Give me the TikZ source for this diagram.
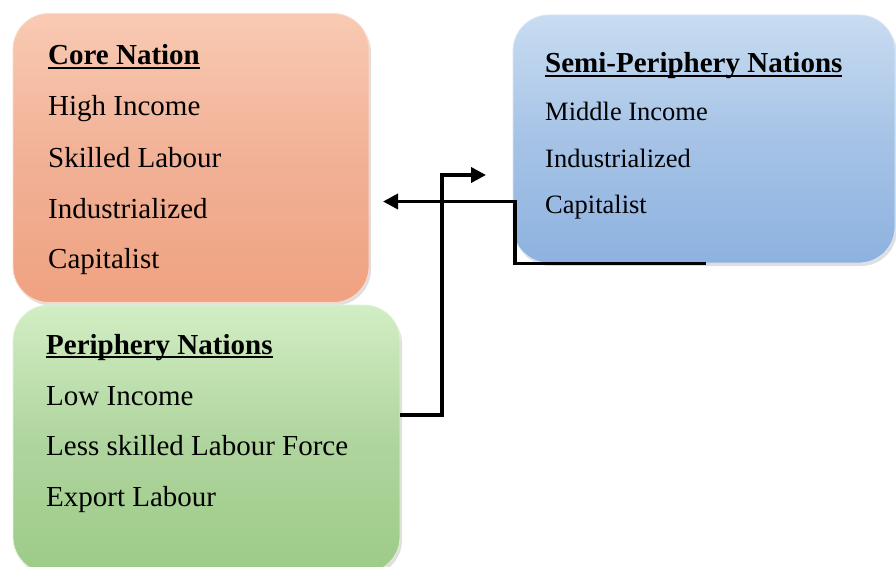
\documentclass[tikz,border=0pt]{standalone}
\usepackage{fontspec}
\setmainfont{Liberation Serif}
\usetikzlibrary{arrows.meta,shadows}
\newcommand\myul[1]{\setbox0\hbox{#1}\rlap{\rule[-4pt]{\wd0}{1.8pt}}\box0}
\definecolor{coreT}{HTML}{F9CAB3}
\definecolor{coreM}{HTML}{F1B196}
\definecolor{coreB}{HTML}{F0A281}
\definecolor{perT}{HTML}{D2EEC4}
\definecolor{perM}{HTML}{B0D59F}
\definecolor{perB}{HTML}{9DCB87}
\definecolor{semT}{HTML}{C8DCF1}
\definecolor{semM}{HTML}{A6C3E6}
\definecolor{semB}{HTML}{8DB2E0}
\tikzset{
  boxbase/.style={rounded corners=36pt, inner sep=0pt,
    drop shadow={opacity=0.25, shadow xshift=2pt, shadow yshift=-3pt}},
  corebox/.style={boxbase, top color=coreT, bottom color=coreB, middle color=coreM, draw=coreT!70!white, line width=0.8pt},
  perbox/.style={boxbase, top color=perT, bottom color=perB, middle color=perM, draw=perT!70!white, line width=0.8pt},
  sembox/.style={boxbase, top color=semT, bottom color=semB, middle color=semM, draw=semT!70!white, line width=0.8pt},
  bigtxt/.style={anchor=base west, inner sep=0pt, font=\fontsize{29}{34}\selectfont},
  smalltxt/.style={anchor=base west, inner sep=0pt, font=\fontsize{26.5}{31}\selectfont},
  conn/.style={line width=3.6pt, -{Triangle[length=15pt,width=15pt]}}
}
\begin{document}
\begin{tikzpicture}[x=1pt,y=-1pt]
\useasboundingbox (0,0) rectangle (896,567);
\clip (0,0) rectangle (896,567);
% boxes
\node[corebox, minimum width=356pt, minimum height=289pt] (core) at (191,158) {};
\node[sembox, minimum width=382pt, minimum height=248pt] (semi) at (704,139) {};
\node[perbox, minimum width=387pt, minimum height=268pt] (per) at (206.5,439) {};
% core text
\node[bigtxt] (c0) at (48,65) {\bfseries\myul{Core Nation}};
\node[bigtxt] (c1) at (48,116) {High Income};
\node[bigtxt] (c2) at (48,167) {Skilled Labour};
\node[bigtxt] (c3) at (48,218) {Industrialized};
\node[bigtxt] (c4) at (48,268) {Capitalist};
% periphery text
\node[bigtxt] (p0) at (46,354) {\bfseries\myul{Periphery Nations}};
\node[bigtxt] (p1) at (46,405) {Low Income};
\node[bigtxt] (p2) at (46,455) {Less skilled Labour Force};
\node[bigtxt] (p3) at (46,506) {Export Labour};
% semi text
\node[bigtxt] (s0) at (545,73) {\bfseries\myul{Semi-Periphery Nations}};
\node[smalltxt] (s1) at (545,121) {Middle Income};
\node[smalltxt] (s2) at (545,167) {Industrialized};
\node[smalltxt] (s3) at (545,213) {Capitalist};
% connectors
\coordinate (semistart) at (706,263.5);
\coordinate (coretip) at (383,201.5);
\coordinate (pertip) at (486,175);
\draw[conn, line cap=butt] (semistart) -- (515,263.5) -- (515,201.5) -- (coretip);
\draw[conn] (per.east |- 0,415) -- (442,415) -- (442,175) -- (pertip);
\end{tikzpicture}
\end{document}
